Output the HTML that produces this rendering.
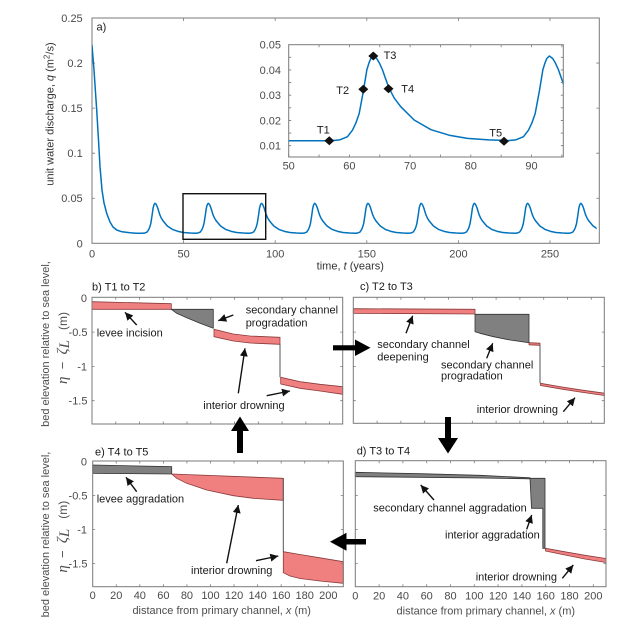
<!DOCTYPE html>
<html><head><meta charset="utf-8">
<style>
html,body{margin:0;padding:0;background:#fff;}
svg{display:block;}
text{font-family:"Liberation Sans",Arial,sans-serif;font-size:11px;}
.tk{fill:#4a4a4a;}
.an{fill:#1a1a1a;}
.fr{fill:none;stroke:#7a7a7a;stroke-width:1;}
.tm{fill:none;stroke:#7a7a7a;stroke-width:0.8;}
.pk{fill:#F08080;stroke:#8B3A3A;stroke-width:0.8;stroke-linejoin:round;}
.gr{fill:#808080;stroke:#333;stroke-width:0.8;stroke-linejoin:round;}
.ar{stroke:#111;stroke-width:1.4;fill:none;marker-end:url(#ah);}
.math{font-family:"Liberation Serif","DejaVu Serif",serif;font-style:italic;font-size:15px;}
</style></head>
<body>
<svg width="624" height="626" viewBox="0 0 624 626" xmlns="http://www.w3.org/2000/svg">
<defs>
<marker id="ah" markerUnits="userSpaceOnUse" markerWidth="9" markerHeight="8" refX="8" refY="4" orient="auto">
<path d="M0,0 L8,4 L0,8 Z" fill="#111"/>
</marker>
<path id="pm" d="M-12.83,0 L-10.08,-0.30 L-7.79,-1.41 L-6.27,-3.78 L-5.28,-6.20 L-4.27,-9.60 L-3.62,-13.64 L-2.93,-17.99 L-1.96,-25.04 L-1.33,-27.45 L-0.75,-29.12 L0,-30 L1.03,-29.12 L1.87,-27.45 L2.79,-25.04 L3.71,-21.96 L4.76,-18.60 L6.34,-15.05 L8.32,-12.01 L12.33,-7.32 L17.40,-3.90 L22.91,-1.95 L28.40,-0.84 L34.80,-0.30 L40.38,-0.09" fill="none" stroke="#0072BD" stroke-width="1.5" stroke-linejoin="round" stroke-linecap="round"/>
<path id="pi" d="M-42.5,0 L-33.4,-0.85 L-25.8,-3.98 L-20.76,-10.67 L-17.5,-17.5 L-14.14,-27.1 L-12,-38.5 L-9.71,-50.8 L-6.49,-70.7 L-4.4,-77.5 L-2.49,-82.2 L0,-84.7 L3.4,-82.2 L6.2,-77.5 L9.23,-70.7 L12.3,-62 L15.78,-52.5 L21,-42.5 L27.56,-33.9 L40.85,-20.67 L57.67,-11.0 L75.9,-5.5 L94.1,-2.37 L115.3,-0.85 L133.8,-0.25" fill="none" stroke="#0072BD" stroke-width="1.5" stroke-linejoin="round" stroke-linecap="round"/>
<clipPath id="cm"><rect x="92" y="10" width="504.7" height="240"/></clipPath>
<clipPath id="ci"><rect x="288.7" y="44.7" width="274.6" height="112.3"/></clipPath>
</defs>

<!-- ===== Panel a ===== -->
<rect x="92" y="18" width="507.3" height="225.3" class="fr"/>
<path class="tm" d="M92,243.3v-3 M183.6,243.3v-3 M275.2,243.3v-3 M366.8,243.3v-3 M458.4,243.3v-3 M550,243.3v-3 M92,18v3 M183.6,18v3 M275.2,18v3 M366.8,18v3 M458.4,18v3 M550,18v3 M92,63.06h3 M92,108.12h3 M92,153.18h3 M92,198.24h3 M599.3,63.06h-3 M599.3,108.12h-3 M599.3,153.18h-3 M599.3,198.24h-3"/>
<g class="tk" text-anchor="end">
<text x="82.7" y="22">0.25</text>
<text x="82.7" y="67">0.2</text>
<text x="82.7" y="112">0.15</text>
<text x="82.7" y="157.2">0.1</text>
<text x="82.7" y="202.2">0.05</text>
<text x="82.7" y="247.3">0</text>
</g>
<g class="tk" text-anchor="middle">
<text x="92" y="257.5">0</text>
<text x="183.6" y="257.5">50</text>
<text x="275.2" y="257.5">100</text>
<text x="366.8" y="257.5">150</text>
<text x="458.4" y="257.5">200</text>
<text x="550" y="257.5">250</text>
</g>
<text x="350.3" y="269.5" text-anchor="middle" fill="#333">time, <tspan font-style="italic">t</tspan> (years)</text>
<text transform="translate(53.3,114) rotate(-90)" text-anchor="middle" fill="#333">unit water discharge, <tspan font-style="italic">q</tspan> (m<tspan dy="-4" font-size="8">2</tspan><tspan dy="4">/s)</tspan></text>
<text x="96.5" y="30.7" class="an">a)</text>

<g clip-path="url(#cm)">
<path d="M92,45.3 L94,70 L96.7,110 L98.5,140 L100,166.7 L102,190 L104,203 L106.7,213.3 L110,222 L113,227 L116.7,230 L122,231.8 L130,232.8 L136,233.2 L142.2,233.3" fill="none" stroke="#0072BD" stroke-width="1.5" stroke-linejoin="round" stroke-linecap="round"/>
<use href="#pm" transform="translate(155.02,233.3)"/>
<use href="#pm" transform="translate(208.24,233.3)"/>
<use href="#pm" transform="translate(261.46,233.3)"/>
<use href="#pm" transform="translate(314.68,233.3)"/>
<use href="#pm" transform="translate(367.90,233.3)"/>
<use href="#pm" transform="translate(421.12,233.3)"/>
<use href="#pm" transform="translate(474.34,233.3)"/>
<use href="#pm" transform="translate(527.56,233.3)"/>
<use href="#pm" transform="translate(580.78,233.3)"/>
</g>
<rect x="183" y="193.7" width="82.7" height="45.6" fill="none" stroke="#111" stroke-width="1.4"/>

<!-- inset -->
<rect x="288.7" y="44.7" width="274.6" height="112.3" fill="#fff" class="fr"/>
<g clip-path="url(#ci)">
<path d="M288.7,140.7 L330.8,140.7" fill="none" stroke="#0072BD" stroke-width="1.5"/>
<use href="#pi" transform="translate(373.3,140.7)"/>
<use href="#pi" transform="translate(549.3,140.7)"/>
</g>
<path class="tm" d="M288.7,157v-2.5 M319.05,157v-2.5 M349.4,157v-2.5 M379.75,157v-2.5 M410.1,157v-2.5 M440.45,157v-2.5 M470.8,157v-2.5 M501.15,157v-2.5 M531.5,157v-2.5 M561.85,157v-2.5 M319.05,44.7v2.5 M349.4,44.7v2.5 M379.75,44.7v2.5 M410.1,44.7v2.5 M440.45,44.7v2.5 M470.8,44.7v2.5 M501.15,44.7v2.5 M531.5,44.7v2.5 M561.85,44.7v2.5 M288.7,57.33h2.5 M288.7,69.95h2.5 M288.7,82.58h2.5 M288.7,95.2h2.5 M288.7,107.83h2.5 M288.7,120.45h2.5 M288.7,133.08h2.5 M288.7,145.7h2.5 M563.3,57.33h-2.5 M563.3,69.95h-2.5 M563.3,82.58h-2.5 M563.3,95.2h-2.5 M563.3,107.83h-2.5 M563.3,120.45h-2.5 M563.3,133.08h-2.5 M563.3,145.7h-2.5"/>
<g class="tk" text-anchor="end">
<text x="281" y="48.7">0.05</text>
<text x="281" y="74">0.04</text>
<text x="281" y="99.2">0.03</text>
<text x="281" y="124.5">0.02</text>
<text x="281" y="149.7">0.01</text>
</g>
<g class="tk" text-anchor="middle">
<text x="288.7" y="169.7">50</text>
<text x="349.4" y="169.7">60</text>
<text x="410.1" y="169.7">70</text>
<text x="470.8" y="169.7">80</text>
<text x="531.5" y="169.7">90</text>
</g>
<g fill="#111">
<path d="M324.3,140.7 L329.3,136.2 L334.3,140.7 L329.3,145.2 Z"/>
<path d="M358.3,89.3 L363.3,84.8 L368.3,89.3 L363.3,93.8 Z"/>
<path d="M368.3,56 L373.3,51.5 L378.3,56 L373.3,60.5 Z"/>
<path d="M383.5,88.7 L388.5,84.2 L393.5,88.7 L388.5,93.2 Z"/>
<path d="M499,141.3 L504,136.8 L509,141.3 L504,145.8 Z"/>
</g>
<g class="an" text-anchor="middle">
<text x="323.3" y="133.3">T1</text>
<text x="342.7" y="94">T2</text>
<text x="390" y="59">T3</text>
<text x="407.7" y="92.3">T4</text>
<text x="495.7" y="136.7">T5</text>
</g>

<!-- ===== Lower panels: y labels ===== -->
<g fill="#4d4d4d">
<text transform="translate(49,344) rotate(-90)" text-anchor="middle">bed elevation relative to sea level,</text>
<text transform="translate(49,534.5) rotate(-90)" text-anchor="middle">bed elevation relative to sea level,</text>
<text transform="translate(67,348) rotate(-90)" text-anchor="middle" xml:space="preserve"><tspan class="math">η</tspan><tspan font-size="13">  −  </tspan><tspan class="math">ζ</tspan><tspan class="math" font-size="10" dy="2">L</tspan><tspan dy="-2" font-size="12">   (m)</tspan></text>
<text transform="translate(67,536.7) rotate(-90)" text-anchor="middle" xml:space="preserve"><tspan class="math">η</tspan><tspan font-size="13">  −  </tspan><tspan class="math">ζ</tspan><tspan class="math" font-size="10" dy="2">L</tspan><tspan dy="-2" font-size="12">   (m)</tspan></text>
</g>

<!-- ===== Panel b ===== -->
<path class="pk" d="M92,301.7 L171.3,303.7 L171.3,309.3 L92,309.3 Z"/>
<path class="gr" d="M171.3,309.3 L213.3,309.3 L213.3,328.3 L200,323.3 L186.7,317.7 L176.7,313.3 Z"/>
<path class="pk" d="M214,329.3 L233.3,334 L250,336 L280,337.3 L280,344.3 L250,343 L233.3,341 L214,336.7 Z"/>
<path d="M280,344.3 L280,377.3" stroke="#555" stroke-width="1"/>
<path class="pk" d="M280.7,377.3 L300,381.7 L320,384.3 L342.7,386.7 L342.7,394.3 L320,391 L300,388.3 L280.7,384 Z"/>
<rect x="92" y="297.3" width="250.7" height="126.7" class="fr"/>
<path class="tm" d="M115.76,424v-2.5 M139.52,424v-2.5 M163.28,424v-2.5 M187.04,424v-2.5 M210.8,424v-2.5 M234.56,424v-2.5 M258.32,424v-2.5 M282.08,424v-2.5 M305.84,424v-2.5 M329.6,424v-2.5 M115.76,297.3v2.5 M139.52,297.3v2.5 M163.28,297.3v2.5 M187.04,297.3v2.5 M210.8,297.3v2.5 M234.56,297.3v2.5 M258.32,297.3v2.5 M282.08,297.3v2.5 M305.84,297.3v2.5 M329.6,297.3v2.5 M92,332.1h2.5 M92,366.4h2.5 M92,400.7h2.5 M342.7,332.1h-2.5 M342.7,366.4h-2.5 M342.7,400.7h-2.5"/>
<g class="tk" text-anchor="end">
<text x="87" y="301.8">0</text>
<text x="87.5" y="336.1">-0.5</text>
<text x="87" y="370.4">-1</text>
<text x="87.5" y="404.7">-1.5</text>
</g>
<text x="92" y="290.7" class="an">b) T1 to T2</text>
<g class="an">
<text x="96.7" y="336.3">levee incision</text>
<text x="245.7" y="313.3">secondary channel</text>
<text x="245.7" y="326.7">progradation</text>
<text x="203.3" y="409">interior drowning</text>
</g>
<path class="ar" d="M136.7,325 L125,312.3"/>
<path class="ar" d="M233.3,315 L218.3,320.7"/>
<path class="ar" d="M238.3,393.3 L245,348.3"/>
<path class="ar" d="M266.7,395.7 L290,391"/>

<!-- ===== Panel c ===== -->
<path class="pk" d="M353.3,308.7 L475,309.3 L475,314 L353.3,313.3 Z"/>
<path class="gr" d="M475,314.3 L529,314.3 L529,342.7 L510,340 L493.3,336.7 L480,333.3 L475,331.7 Z"/>
<path class="pk" d="M529,342.7 L540,343.2 L540,345.3 L529,344.8 Z"/>
<path d="M540,345 L540,383.3" stroke="#555" stroke-width="1"/>
<path class="pk" d="M540.5,383.3 L560,386.6 L580,389.8 L604.3,393.2 L604.3,395.5 L580,392 L560,388.8 L540.5,385.5 Z"/>
<rect x="353.3" y="297.3" width="251" height="126" class="fr"/>
<path class="tm" d="M377.1,423.3v-2.5 M400.9,423.3v-2.5 M424.7,423.3v-2.5 M448.5,423.3v-2.5 M472.3,423.3v-2.5 M496.1,423.3v-2.5 M519.9,423.3v-2.5 M543.7,423.3v-2.5 M567.5,423.3v-2.5 M591.3,423.3v-2.5 M377.1,297.3v2.5 M400.9,297.3v2.5 M424.7,297.3v2.5 M448.5,297.3v2.5 M472.3,297.3v2.5 M496.1,297.3v2.5 M519.9,297.3v2.5 M543.7,297.3v2.5 M567.5,297.3v2.5 M591.3,297.3v2.5 M353.3,332.1h2.5 M353.3,366.4h2.5 M353.3,400.7h2.5 M604.3,332.1h-2.5 M604.3,366.4h-2.5 M604.3,400.7h-2.5"/>
<text x="360" y="290" class="an">c) T2 to T3</text>
<g class="an">
<text x="377.3" y="348">secondary channel</text>
<text x="377.3" y="360.3">deepening</text>
<text x="441" y="368.3">secondary channel</text>
<text x="441" y="379.7">progradation</text>
<text x="476.7" y="413">interior drowning</text>
</g>
<path class="ar" d="M406,333.3 L412.7,315.7"/>
<path class="ar" d="M486.7,358.3 L492.7,343.3"/>
<path class="ar" d="M563.3,411.7 L575,397.7"/>

<!-- ===== Panel e ===== -->
<path class="gr" d="M92.7,465 L171.7,466.7 L171.7,474 L92.7,473.3 Z"/>
<path class="pk" d="M171.7,474 L283.3,478.3 L283.3,500.3 L253.3,498.3 L233.3,495.7 L206.7,490 L186.7,483.3 L176.7,478.3 Z"/>
<path d="M283.3,478.3 L283.3,551.7" stroke="#555" stroke-width="1"/>
<path class="pk" d="M283.3,551.7 L300,554.5 L320,557.8 L343.3,561.7 L343.3,583.3 L320,581 L300,578.5 L290,576 L283.3,572.7 Z"/>
<rect x="92.7" y="461" width="250.6" height="125.7" class="fr"/>
<path class="tm" d="M116.26,586.7v-2.5 M139.82,586.7v-2.5 M163.38,586.7v-2.5 M186.94,586.7v-2.5 M210.5,586.7v-2.5 M234.06,586.7v-2.5 M257.62,586.7v-2.5 M281.18,586.7v-2.5 M304.74,586.7v-2.5 M328.3,586.7v-2.5 M116.26,461v2.5 M139.82,461v2.5 M163.38,461v2.5 M186.94,461v2.5 M210.5,461v2.5 M234.06,461v2.5 M257.62,461v2.5 M281.18,461v2.5 M304.74,461v2.5 M328.3,461v2.5 M92.7,495.4h2.5 M92.7,529.5h2.5 M92.7,563.6h2.5 M343.3,495.4h-2.5 M343.3,529.5h-2.5 M343.3,563.6h-2.5"/>
<g class="tk" text-anchor="end">
<text x="87" y="465.3">0</text>
<text x="87.5" y="499.4">-0.5</text>
<text x="87" y="533.5">-1</text>
<text x="87.5" y="567.6">-1.5</text>
</g>
<g class="tk" text-anchor="middle">
<text x="92.7" y="599">0</text>
<text x="116.26" y="599">20</text>
<text x="139.82" y="599">40</text>
<text x="163.38" y="599">60</text>
<text x="186.94" y="599">80</text>
<text x="210.5" y="599">100</text>
<text x="234.06" y="599">120</text>
<text x="257.62" y="599">140</text>
<text x="281.18" y="599">160</text>
<text x="304.74" y="599">180</text>
<text x="328.3" y="599">200</text>
</g>
<text x="221.7" y="614" text-anchor="middle" fill="#4d4d4d">distance from primary channel, <tspan font-style="italic">x</tspan> (m)</text>
<text x="95" y="455.7" class="an">e) T4 to T5</text>
<g class="an">
<text x="96.7" y="502.3">levee aggradation</text>
<text x="191" y="574">interior drowning</text>
</g>
<path class="ar" d="M136.7,491.7 L126,477.3"/>
<path class="ar" d="M226.7,563.3 L238.3,505"/>
<path class="ar" d="M256,560.7 L278.3,556"/>

<!-- ===== Panel d ===== -->
<path class="gr" d="M355.3,472.3 L420,473.7 L480,475.3 L530,477.8 L530,478.8 L480,478 L420,477.3 L355.3,476.7 Z"/>
<path class="gr" d="M530,478.3 L545,478.3 L545,548.3 L542.8,548.3 L542.8,508.3 L531.5,508.3 Z"/>
<path class="pk" d="M545.5,548.3 L565,551.8 L585,555.3 L606,558.5 L606,562.5 L585,559 L565,555 L545.5,551 Z"/>
<rect x="355.3" y="460.7" width="250.7" height="126" class="fr"/>
<path class="tm" d="M379.1,586.7v-2.5 M402.9,586.7v-2.5 M426.7,586.7v-2.5 M450.5,586.7v-2.5 M474.3,586.7v-2.5 M498.1,586.7v-2.5 M521.9,586.7v-2.5 M545.7,586.7v-2.5 M569.5,586.7v-2.5 M593.3,586.7v-2.5 M379.1,460.7v2.5 M402.9,460.7v2.5 M426.7,460.7v2.5 M450.5,460.7v2.5 M474.3,460.7v2.5 M498.1,460.7v2.5 M521.9,460.7v2.5 M545.7,460.7v2.5 M569.5,460.7v2.5 M593.3,460.7v2.5 M355.3,495.4h2.5 M355.3,529.5h2.5 M355.3,563.6h2.5 M606,495.4h-2.5 M606,529.5h-2.5 M606,563.6h-2.5"/>
<g class="tk" text-anchor="middle">
<text x="355.3" y="599.5">0</text>
<text x="379.1" y="599.5">20</text>
<text x="402.9" y="599.5">40</text>
<text x="426.7" y="599.5">60</text>
<text x="450.5" y="599.5">80</text>
<text x="474.3" y="599.5">100</text>
<text x="498.1" y="599.5">120</text>
<text x="521.9" y="599.5">140</text>
<text x="545.7" y="599.5">160</text>
<text x="569.5" y="599.5">180</text>
<text x="593.3" y="599.5">200</text>
</g>
<text x="485.8" y="614.7" text-anchor="middle" fill="#4d4d4d">distance from primary channel, <tspan font-style="italic">x</tspan> (m)</text>
<text x="356.7" y="454.7" class="an">d) T3 to T4</text>
<g class="an">
<text x="373.3" y="511.7">secondary channel aggradation</text>
<text x="445" y="538.3">interior aggradation</text>
<text x="475.7" y="580.7">interior drowning</text>
</g>
<path class="ar" d="M434,500 L420.7,485"/>
<path class="ar" d="M526.7,529.3 L531.7,515"/>
<path class="ar" d="M562.3,578.3 L573.3,565"/>

<!-- ===== Big arrows ===== -->
<g fill="#000">
<polygon points="333,345.2 355,345.2 355,339.5 370.5,347.8 355,356 355,350.4 333,350.4"/>
<polygon points="445,417 451,417 451,438 458,438 448,453.5 438,438 445,438"/>
<polygon points="366,539 346.5,539 346.5,532.7 330,541.8 346.5,550.8 346.5,544.5 366,544.5"/>
<polygon points="237,453 237,431 231,431 240,416.5 249,431 243,431 243,453"/>
</g>
</svg>
</body></html>
